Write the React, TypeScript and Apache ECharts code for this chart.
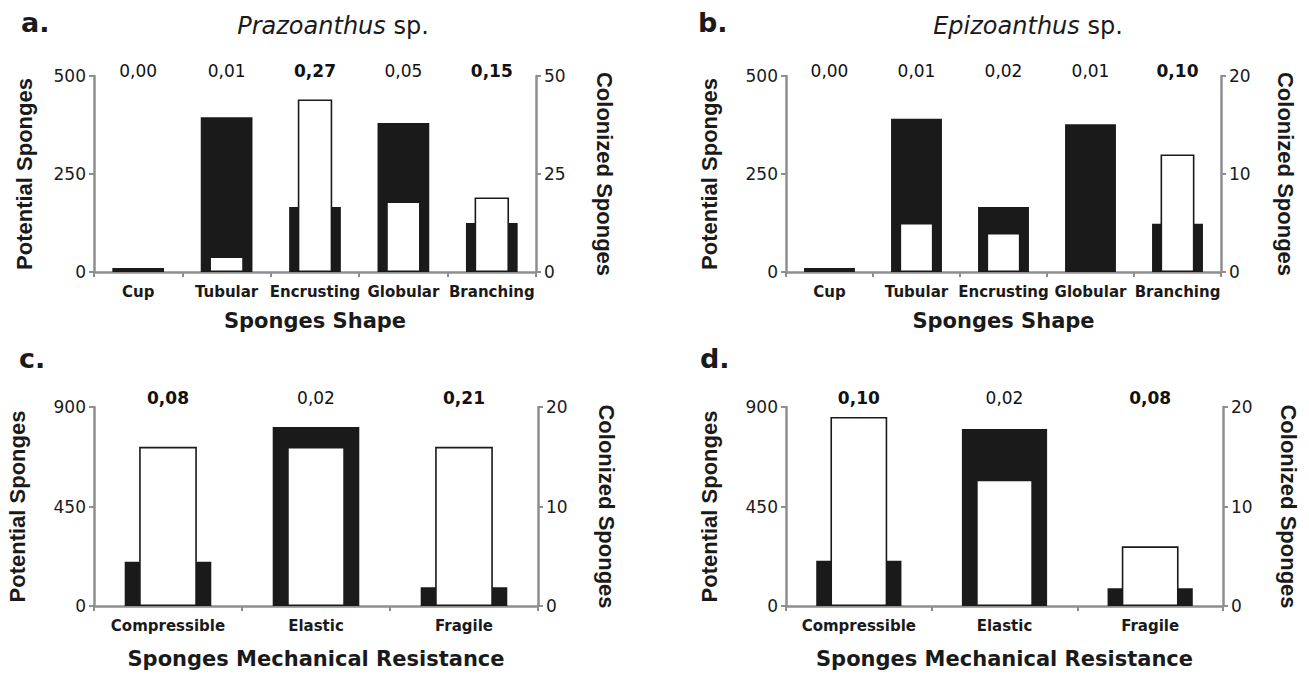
import React, { useEffect, useRef } from "react";
import * as echarts from "echarts";

// ---------- data ----------
const shapeCategories = ["Cup", "Tubular", "Encrusting", "Globular", "Branching"];
const resistanceCategories = ["Compressible", "Elastic", "Fragile"];

const aPotential = [10, 395, 166, 380, 125];
const aColonized = [0, 4, 44, 18, 19];
const aPValues = ["0,00", "0,01", "0,27", "0,05", "0,15"];
const aSignificant = [false, false, true, false, true];

const bPotential = [10, 391, 166, 377, 123];
const bColonized = [0, 5, 4, 0, 12];
const bPValues = ["0,00", "0,01", "0,02", "0,01", "0,10"];
const bSignificant = [false, false, false, false, true];

const cPotential = [200, 810, 85];
const cColonized = [16, 16, 16];
const cPValues = ["0,08", "0,02", "0,21"];
const cSignificant = [true, false, true];

const dPotential = [205, 800, 80];
const dColonized = [19, 12.7, 6];
const dPValues = ["0,10", "0,02", "0,08"];
const dSignificant = [true, false, true];

const leftMax = [500, 500, 900, 900];
const leftInterval = [250, 250, 450, 450];
const rightMax = [50, 20, 20, 20];
const rightInterval = [25, 10, 10, 10];

const panelLetters = ["a.", "b.", "c.", "d."];
const xAxisNames = ["Sponges Shape", "Sponges Shape", "Sponges Mechanical Resistance", "Sponges Mechanical Resistance"];
const leftAxisName = "Potential Sponges";
const rightAxisName = "Colonized Sponges";

// ---------- layout / style ----------
const layout = [
  { left: 94, top: 76, width: 442, height: 196, lGap: 59, rGap: 57, xGap: 38, labelOff: -5, letter: [21, 22] },
  { left: 786, top: 76, width: 435, height: 196, lGap: 66, rGap: 53, xGap: 38, labelOff: -5, letter: [698, 22] },
  { left: 94, top: 407, width: 444, height: 199, lGap: 66, rGap: 57, xGap: 42, labelOff: -9.5, letter: [19, 358] },
  { left: 786, top: 407, width: 437, height: 199, lGap: 66, rGap: 54, xGap: 42, labelOff: -9.5, letter: [700, 358] },
];

const AXIS_GRAY = "#8e8e8e";
const INK = "#1a1a1a";
const FONT = "DejaVu Sans";
const NAME_FONT = "Liberation Sans";

export default function App() {
  const ref = useRef<HTMLDivElement>(null);

  useEffect(() => {
    if (!ref.current) return;
    const chart = echarts.init(ref.current, null, { renderer: "svg" });

    const panels = [
      { cats: shapeCategories, pot: aPotential, col: aColonized, p: aPValues, sig: aSignificant },
      { cats: shapeCategories, pot: bPotential, col: bColonized, p: bPValues, sig: bSignificant },
      { cats: resistanceCategories, pot: cPotential, col: cColonized, p: cPValues, sig: cSignificant },
      { cats: resistanceCategories, pot: dPotential, col: dColonized, p: dPValues, sig: dSignificant },
    ];

    const grid: any[] = [];
    const xAxis: any[] = [];
    const yAxis: any[] = [];
    const series: any[] = [];

    panels.forEach((pn, k) => {
      const L = layout[k];
      grid.push({
        left: L.left,
        top: L.top,
        width: L.width,
        height: L.height,
        containLabel: false,
        outerBoundsMode: "none",
      });
      xAxis.push({
        type: "category",
        gridIndex: k,
        data: pn.cats,
        boundaryGap: true,
        axisLine: { show: true, lineStyle: { color: AXIS_GRAY, width: 2.5 } },
        axisTick: { show: true, alignWithLabel: false, length: 5, lineStyle: { color: AXIS_GRAY, width: 2 } },
        axisLabel: {
          interval: 0,
          hideOverlap: false,
          margin: 12,
          fontFamily: FONT,
          fontWeight: "bold",
          fontSize: 15,
          color: INK,
        },
        name: xAxisNames[k],
        nameLocation: "middle",
        nameGap: L.xGap,
        nameTextStyle: { fontFamily: FONT, fontWeight: "bold", fontSize: 21, color: INK },
        splitLine: { show: false },
        z: 1,
      });
      xAxis.push({
        type: "category",
        gridIndex: k,
        data: pn.cats,
        show: false,
      });
      yAxis.push({
        type: "value",
        gridIndex: k,
        position: "left",
        min: 0,
        max: leftMax[k],
        interval: leftInterval[k],
        axisLine: { show: true, lineStyle: { color: AXIS_GRAY, width: 2.5 } },
        axisTick: { show: true, length: 5, lineStyle: { color: AXIS_GRAY, width: 2 } },
        axisLabel: { margin: 8, fontFamily: FONT, fontSize: 17, color: INK },
        splitLine: { show: false },
        name: leftAxisName,
        nameLocation: "middle",
        nameRotate: 90,
        nameGap: L.lGap,
        nameTextStyle: { fontFamily: NAME_FONT, fontWeight: "bold", fontSize: 22, color: INK },
      });
      yAxis.push({
        type: "value",
        gridIndex: k,
        position: "right",
        min: 0,
        max: rightMax[k],
        interval: rightInterval[k],
        axisLine: { show: true, lineStyle: { color: AXIS_GRAY, width: 2.5 } },
        axisTick: { show: true, length: 5, lineStyle: { color: AXIS_GRAY, width: 2 } },
        axisLabel: { margin: 8, fontFamily: FONT, fontSize: 17, color: INK },
        splitLine: { show: false },
        name: rightAxisName,
        nameLocation: "middle",
        nameRotate: -90,
        nameGap: L.rGap,
        nameTextStyle: { fontFamily: NAME_FONT, fontWeight: "bold", fontSize: 22, color: INK },
      });

      series.push({
        type: "bar",
        name: "Potential " + k,
        xAxisIndex: 2 * k,
        yAxisIndex: 2 * k,
        data: pn.pot,
        barWidth: "58.5%",
        itemStyle: { color: INK },
        silent: true,
        z: 2,
      });
      series.push({
        type: "bar",
        name: "Colonized " + k,
        xAxisIndex: 2 * k + 1,
        yAxisIndex: 2 * k + 1,
        data: pn.col.map((v) => ({
          value: v,
          itemStyle: v === 0 ? { borderWidth: 0, color: "transparent" } : undefined,
        })),
        barWidth: "39%",
        itemStyle: { color: "#ffffff", borderColor: INK, borderWidth: 1.6 },
        silent: true,
        z: 3,
      });
      series.push({
        type: "scatter",
        name: "p " + k,
        xAxisIndex: 2 * k,
        yAxisIndex: 2 * k,
        symbolSize: 1,
        itemStyle: { color: "transparent" },
        silent: true,
        data: pn.cats.map((c, i) => ({
          value: [c, leftMax[k]],
          label: { fontWeight: pn.sig[i] ? "bold" : "normal" },
        })),
        label: {
          show: true,
          position: "inside",
          offset: [0, L.labelOff],
          fontFamily: FONT,
          fontSize: 17,
          color: "#111111",
          textBorderWidth: 0,
          textBorderColor: "transparent",
          opacity: 1,
          formatter: (p: any) => pn.p[p.dataIndex],
        },
        z: 4,
      });
    });

    const graphic: any[] = [];
    panelLetters.forEach((t, k) => {
      graphic.push({
        type: "text",
        x: layout[k].letter[0],
        y: layout[k].letter[1],
        style: {
          text: t,
          fontFamily: FONT,
          fontWeight: "bold",
          fontSize: 27,
          fill: INK,
          align: "left",
          verticalAlign: "middle",
        },
      });
    });
    graphic.push({
      type: "text",
      x: 333,
      y: 26,
      style: {
        text: "{i|Prazoanthus} sp.",
        fontFamily: FONT,
        fontSize: 24,
        fill: INK,
        align: "center",
        verticalAlign: "middle",
        rich: { i: { fontStyle: "italic", fontFamily: FONT, fontSize: 24, fill: INK } },
      },
    });
    graphic.push({
      type: "text",
      x: 1028,
      y: 26,
      style: {
        text: "{i|Epizoanthus} sp.",
        fontFamily: FONT,
        fontSize: 24,
        fill: INK,
        align: "center",
        verticalAlign: "middle",
        rich: { i: { fontStyle: "italic", fontFamily: FONT, fontSize: 24, fill: INK } },
      },
    });

    chart.setOption({
      animation: false,
      backgroundColor: "#ffffff",
      textStyle: { fontFamily: FONT },
      grid,
      xAxis,
      yAxis,
      series,
      graphic,
    });

    return () => {
      chart.dispose();
    };
  }, []);

  return (
    <div
      ref={ref}
      style={{ position: "fixed", left: 0, top: 0, width: "1309px", height: "675px", background: "#fff" }}
    />
  );
}
